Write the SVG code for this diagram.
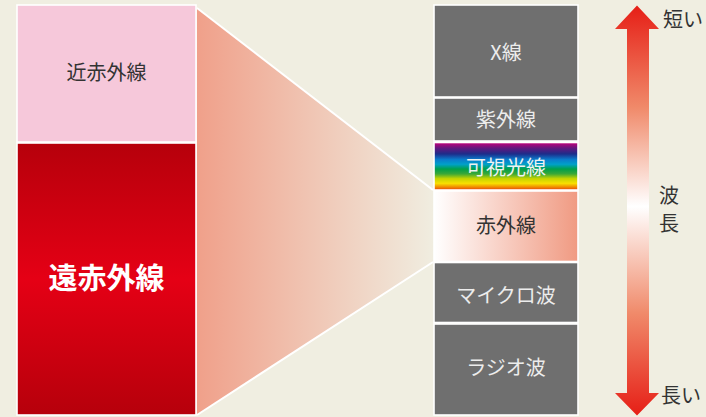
<svg xmlns="http://www.w3.org/2000/svg" width="706" height="417" viewBox="0 0 706 417">
<defs>
<linearGradient id="gRed" x1="0" y1="0" x2="0" y2="1">
<stop offset="0" stop-color="#b6000b"/>
<stop offset="0.5" stop-color="#e50015"/>
<stop offset="1" stop-color="#b6000b"/>
</linearGradient>
<linearGradient id="gFunnel" gradientUnits="userSpaceOnUse" x1="197" y1="0" x2="433" y2="0">
<stop offset="0" stop-color="#f0a08a"/>
<stop offset="1" stop-color="#f0ede0"/>
</linearGradient>
<linearGradient id="gIR" x1="0" y1="0" x2="1" y2="0">
<stop offset="0" stop-color="#ffffff"/>
<stop offset="1" stop-color="#f09a82"/>
</linearGradient>
<linearGradient id="gVis" x1="0" y1="0" x2="0" y2="1">
<stop offset="0" stop-color="#c8007a"/>
<stop offset="0.12" stop-color="#62187e"/>
<stop offset="0.24" stop-color="#1d2c8a"/>
<stop offset="0.36" stop-color="#0a7ccc"/>
<stop offset="0.46" stop-color="#00a0c8"/>
<stop offset="0.56" stop-color="#00a04a"/>
<stop offset="0.66" stop-color="#3aa838"/>
<stop offset="0.76" stop-color="#c4d400"/>
<stop offset="0.86" stop-color="#f8e000"/>
<stop offset="0.94" stop-color="#f08a00"/>
<stop offset="1" stop-color="#e6400e"/>
</linearGradient>
<linearGradient id="gArrow" gradientUnits="userSpaceOnUse" x1="0" y1="5" x2="0" y2="416">
<stop offset="0" stop-color="#e61e16"/>
<stop offset="0.25" stop-color="#f08a6a"/>
<stop offset="0.49" stop-color="#ffffff"/>
<stop offset="0.75" stop-color="#f08a6a"/>
<stop offset="1" stop-color="#e61e16"/>
</linearGradient>
</defs>
<style>
.box{stroke:#ffffff;stroke-width:1.6}
.gray{fill:#6f6f6f}
.t{font-family:"Noto Sans CJK JP","Noto Sans",sans-serif;text-anchor:middle;dominant-baseline:central}
.lt{fill:#ececec;font-size:20px}
.dk{fill:#333333;font-size:20px}
.side{font-family:"Noto Sans CJK JP","Noto Sans",sans-serif;fill:#333333;font-size:20px}
</style>
<rect x="0" y="0" width="706" height="417" fill="#f0eee1"/>

<g id="connectors">
<polygon points="197,8 433,190 433,262 197,415" fill="url(#gFunnel)"/>
<polyline points="197,8 433,190" fill="none" stroke="#ffffff" stroke-width="2"/>
<polyline points="197,415 433,262" fill="none" stroke="#ffffff" stroke-width="2"/>
</g>

<g id="near-ir">
<rect class="box" x="17" y="5" width="179" height="137" fill="#f6c8da"/>
<text class="t dk" x="106.5" y="71" font-size="21">近赤外線</text>
</g>
<g id="far-ir">
<rect class="box" x="17" y="143" width="179" height="272" fill="url(#gRed)"/>
<text class="t" x="106.5" y="276" fill="#ffffff" font-size="29" font-weight="bold">遠赤外線</text>
</g>

<g id="xray">
<rect class="box gray" x="434" y="5" width="144" height="92"/>
<text class="t lt" x="506" y="51">X線</text>
</g>
<g id="uv">
<rect class="box gray" x="434" y="98" width="144" height="43"/>
<text class="t lt" x="506" y="118">紫外線</text>
</g>
<g id="visible">
<rect class="box" x="434" y="142.5" width="144" height="47.5" fill="url(#gVis)"/>
<text class="t" x="506" y="166" fill="#eef2f2" font-size="20">可視光線</text>
</g>
<g id="infrared">
<rect class="box" x="434" y="191" width="144" height="70.5" fill="url(#gIR)"/>
<text class="t dk" x="506" y="224">赤外線</text>
</g>
<g id="microwave">
<rect class="box gray" x="434" y="262.5" width="144" height="60"/>
<text class="t lt" x="506" y="294">マイクロ波</text>
</g>
<g id="radio">
<rect class="box gray" x="434" y="324" width="144" height="91"/>
<text class="t lt" x="506" y="366">ラジオ波</text>
</g>

<g id="wavelength-arrow">
<polygon points="637,5.5 659,29 649,29 649,393 659,393 637,415.5 615,393 627,393 627,29 615,29" fill="url(#gArrow)"/>
<text class="side" x="663" y="26.5">短い</text>
<text class="side" x="661" y="402.5">長い</text>
<text class="side" x="659" y="203">波</text>
<text class="side" x="659" y="231">長</text>
</g>
</svg>
